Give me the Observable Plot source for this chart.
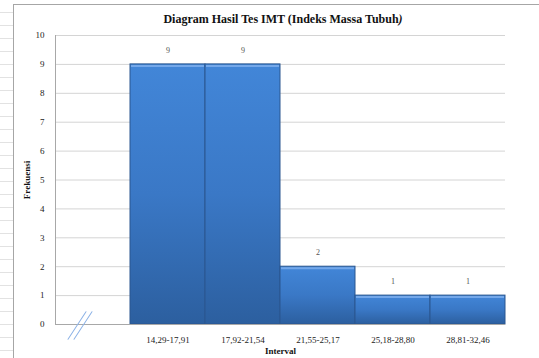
<!DOCTYPE html>
<html>
<head>
<meta charset="utf-8">
<script src="https://cdn.jsdelivr.net/npm/d3@7"></script>
<script src="https://cdn.jsdelivr.net/npm/@observablehq/plot@0.6"></script>
<style>
  html, body { margin: 0; padding: 0; background: #fff; }
  #page { position: relative; width: 539px; height: 358px; overflow: hidden; background: #fff; }
  #sheet { position: absolute; left: 0; top: 0; width: 13px; height: 358px;
    background: repeating-linear-gradient(to bottom, transparent 0px, transparent 12px, #e2e2e2 12px, #e2e2e2 13px); }
  #frame { position: absolute; left: 13px; top: 4px; width: 600px; height: 400px;
    border-left: 1px solid #a6a6a6; border-top: 1px solid #a6a6a6; background: #fff; }
  #title { position: absolute; left: 0; top: 12px; width: 566px; text-align: center;
    font-family: "Liberation Serif", "DejaVu Serif", serif; font-weight: bold; font-size: 12px; color: #111; }
  #chart { position: absolute; left: 0; top: 26px; }
  g[aria-label="x-axis label"] text, g[aria-label="y-axis label"] text { font-weight: bold; fill: #111; }
</style>
</head>
<body>
<div id="page">
  <div id="sheet"></div>
  <div id="frame"></div>
  <div id="title">Diagram Hasil Tes IMT (Indeks Massa Tubuh<i>)</i></div>
  <div id="chart"></div>
</div>
<svg width="0" height="0" style="position:absolute">
  <defs>
    <linearGradient id="barGrad" x1="0" y1="0" x2="0" y2="1">
      <stop offset="0" stop-color="#4286d8"/>
      <stop offset="0.5" stop-color="#3a78c6"/>
      <stop offset="1" stop-color="#2c5f9f"/>
    </linearGradient>
  </defs>
</svg>
<script>
const categories = ["", "14,29-17,91", "17,92-21,54", "21,55-25,17", "25,18-28,80", "28,81-32,46"];
const intervals = ["14,29-17,91", "17,92-21,54", "21,55-25,17", "25,18-28,80", "28,81-32,46"];
const frequencies = [9, 9, 2, 1, 1];
const yTicks = [0, 1, 2, 3, 4, 5, 6, 7, 8, 9, 10];
const breakCategory = [""];

const bars = intervals.map((c, i) => ({interval: c, freq: frequencies[i]}));
const breakMark = breakCategory.map(c => ({interval: c, y: 0}));

const slash = {
  draw(context, l) {
    context.moveTo(0, 0);
    context.lineTo(0, -l);
  }
};

const chart = Plot.plot({
  width: 539,
  height: 332,
  marginLeft: 55,
  marginRight: 34,
  marginTop: 9,
  marginBottom: 34,
  style: {fontSize: "9px", fontFamily: "'Liberation Serif', 'DejaVu Serif', serif", color: "#222", background: "transparent", overflow: "visible"},
  x: {domain: categories, padding: 0, label: null},
  y: {domain: [0, 10], label: null},
  marks: [
    Plot.gridY(yTicks, {stroke: "#d4d4d4", strokeOpacity: 1}),
    Plot.axisY(yTicks, {tickSize: 0, tickPadding: 11, label: "Frekuensi", labelArrow: "none", labelAnchor: "center", labelOffset: 32, fill: "#222"}),
    Plot.axisX(categories, {tickSize: 0, tickPadding: 12, label: "Interval", labelArrow: "none", labelAnchor: "center", labelOffset: 29, fill: "#222"}),
    Plot.ruleX([0], {x: () => categories[0], dx: -37.5, stroke: "#a8a8a8"}),
    Plot.barY(bars, {x: "interval", y: "freq", fill: "url(#barGrad)", stroke: "#2b5790", strokeWidth: 1, inset: 0}),
    Plot.tickY(bars, {x: "interval", y: "freq", stroke: "#74a8ea", strokeWidth: 2, dy: 1.5, inset: 1}),
    Plot.ruleY([0], {stroke: "#a8a8a8"}),
    Plot.text(bars, {x: "interval", y: "freq", text: d => String(d.freq), dy: -14, fill: "#555", fontSize: 8}),
    Plot.vector(breakMark, {x: "interval", y: "y", length: 33, rotate: 33, anchor: "middle", shape: slash, stroke: "#8cb2e6", strokeWidth: 1, dx: -16, dy: 1}),
    Plot.vector(breakMark, {x: "interval", y: "y", length: 33, rotate: 33, anchor: "middle", shape: slash, stroke: "#8cb2e6", strokeWidth: 1, dx: -10, dy: 1})
  ]
});
document.getElementById("chart").appendChild(chart);
</script>
</body>
</html>
